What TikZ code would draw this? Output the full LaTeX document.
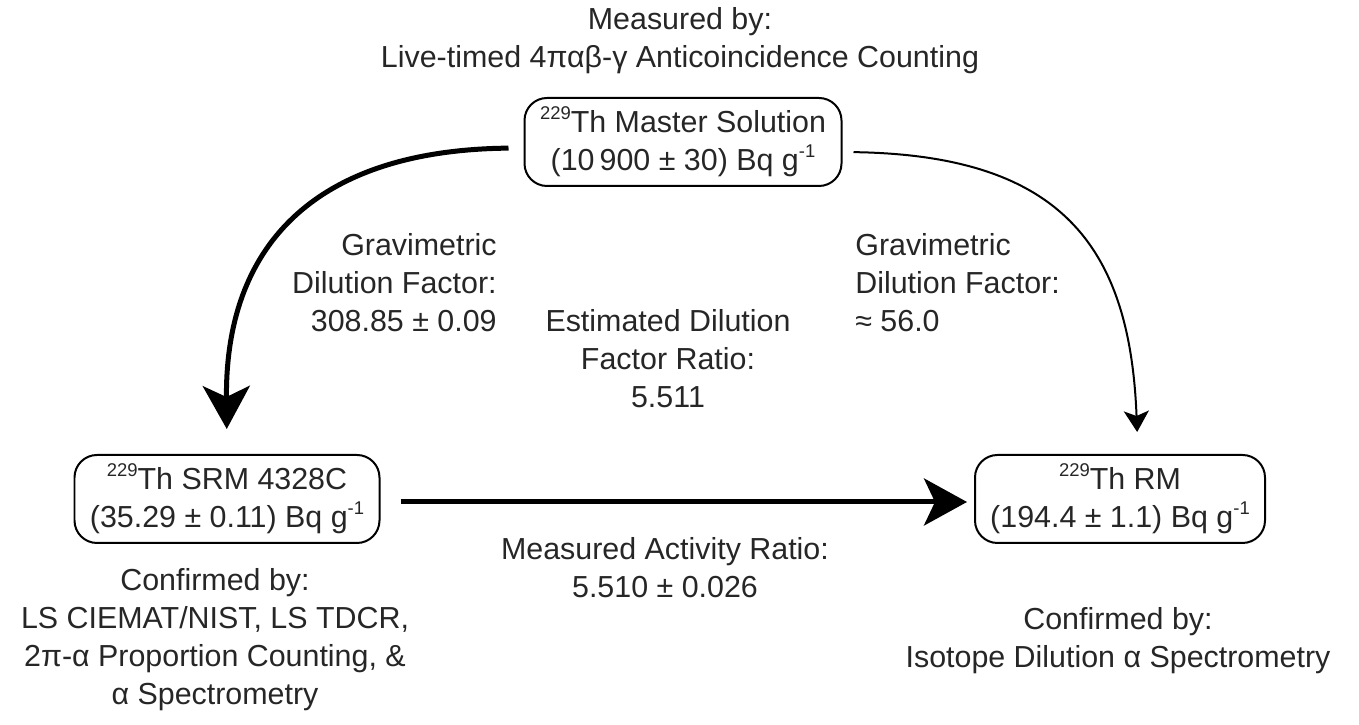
\documentclass[tikz,border=0pt]{standalone}
\usepackage{fontspec}
\setmainfont{Liberation Sans}
\usepackage{tikz}
\usetikzlibrary{arrows.meta,calc}
\newcommand{\upnum}[1]{\raisebox{0.8ex}{\fontsize{10.5}{10.5}\selectfont #1}}

\begin{document}
\begin{tikzpicture}[
    every node/.style={font=\fontsize{17.3}{21.6}\selectfont, text=black!85},
    sample/.style={draw, line width=0.04cm, rounded corners=0.45cm,
                   minimum height=1.76cm, align=center, inner sep=0pt},
    label/.style={inner sep=0pt},
    bigarr/.style={-{Stealth[length=0.86cm, width=0.94cm, inset=0.22cm]}, line width=0.1cm},
    thinarr/.style={-{Stealth[length=0.42cm, width=0.5cm, inset=0.1cm]}, line width=0.04cm}
]
    \useasboundingbox (0,0) rectangle (27.18,14.5);

    % sample boxes
    \node[sample, minimum width=6.34cm] (master) at (13.66,11.66)
        {\upnum{229}Th Master Solution\\(10\,900 ± 30) Bq g\upnum{-1}};
    \node[sample, minimum width=6.1cm]  (srm)    at (4.54,4.52)
        {\upnum{229}Th SRM 4328C\\(35.29 ± 0.11) Bq g\upnum{-1}};
    \node[sample, minimum width=5.8cm]  (rm)     at (22.4,4.52)
        {\upnum{229}Th RM\\(194.4 ± 1.1) Bq g\upnum{-1}};

    % method texts
    \node[label, align=center] (meas) at (13.6,13.68)
        {Measured by:\\Live-timed 4παβ-γ Anticoincidence Counting};
    \node[label, align=center] (confsrm) at (4.3,1.7)
        {Confirmed by:\\LS CIEMAT/NIST, LS TDCR,\\2π-α Proportion Counting, \&\\α Spectrometry};
    \node[label, align=center] (confrm) at (22.36,1.68)
        {Confirmed by:\\Isotope Dilution α Spectrometry};

    % factor texts
    \node[label, align=right, anchor=east] (gravl) at (9.94,8.84)
        {Gravimetric\\Dilution Factor:\\308.85 ± 0.09};
    \node[label, align=left, anchor=west]  (gravr) at (17.1,8.84)
        {Gravimetric\\Dilution Factor:\\≈ 56.0};
    \node[label, align=center] (est) at (13.36,7.32)
        {Estimated Dilution\\Factor Ratio:\\5.511};
    \node[label, align=center] (ratio) at (13.3,3.14)
        {Measured Activity Ratio:\\5.510 ± 0.026};

    % dilutions
    \draw[bigarr, shorten <=0.3cm, shorten >=0.5cm]
        ([yshift=-0.12cm]master.west) .. controls (6.2,11.5) and (4.5,9.5) .. (srm.north);
    \draw[thinarr, shorten <=0.22cm, shorten >=0.44cm]
        ([yshift=-0.2cm]master.east) .. controls (21.2,11.4) and (22.6,9.6) .. ([xshift=0.36cm]rm.north);
    \draw[bigarr, shorten <=0.4cm, shorten >=0.14cm]
        ([yshift=-0.06cm]srm.east) -- ([yshift=-0.06cm]rm.west);
\end{tikzpicture}
\end{document}
